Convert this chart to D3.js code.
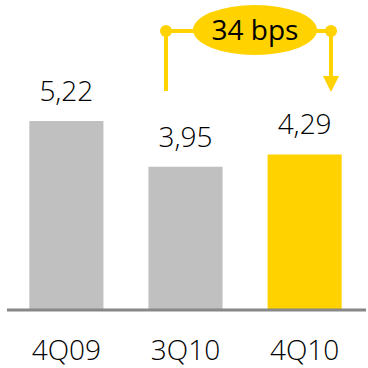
<!DOCTYPE html>
<html><head><meta charset="utf-8">
<script src="https://cdn.jsdelivr.net/npm/d3@7"></script>
<style>body{margin:0;background:#fff}</style>
</head><body>
<svg id="c" width="368" height="368"></svg>
<script>
const categories = ["4Q09", "3Q10", "4Q10"];
const values = [5.22, 3.95, 4.29];
const valueLabels = ["5,22", "3,95", "4,29"];
const barColors = ["#c0c0c0", "#c0c0c0", "#ffd200"];
const deltaLabel = "34 bps";

const svg = d3.select("#c");
const baseY = 309;
const x = d3.scaleBand().domain(categories).range([5.5, 365.5]).paddingInner(0.378).paddingOuter(0.2);
const y = d3.scaleLinear().domain([0, 5.22]).range([baseY, 121]);
const font = "'Open Sans', sans-serif";

svg.selectAll("rect.bar").data(values).enter().append("rect")
  .attr("x", (d, i) => x(categories[i]))
  .attr("y", d => y(d))
  .attr("width", x.bandwidth())
  .attr("height", d => baseY - y(d))
  .attr("fill", (d, i) => barColors[i]);

svg.append("line").attr("x1", 7).attr("x2", 366).attr("y1", baseY + 1).attr("y2", baseY + 1)
  .attr("stroke", "#888").attr("stroke-width", 3);

svg.selectAll("text.v").data(values).enter().append("text")
  .attr("x", (d, i) => x(categories[i]) + x.bandwidth() / 2)
  .attr("y", d => y(d) - 20)
  .attr("text-anchor", "middle")
  .attr("font-family", font).attr("font-size", 28).attr("font-weight", 300).attr("fill", "#000")
  .text((d, i) => valueLabels[i]);

svg.selectAll("text.c").data(categories).enter().append("text")
  .attr("x", d => x(d) + x.bandwidth() / 2)
  .attr("y", 360)
  .attr("text-anchor", "middle")
  .attr("font-family", font).attr("font-size", 28).attr("font-weight", 300).attr("fill", "#000")
  .text(d => d);

// delta annotation
const yel = "#ffd200";
const xl = 166;
const xr = 331;
const ty = 31;
const g = svg.append("g");
g.append("line").attr("x1", xl).attr("x2", xr).attr("y1", ty).attr("y2", ty).attr("stroke", yel).attr("stroke-width", 4);
g.append("line").attr("x1", xl).attr("x2", xl).attr("y1", ty).attr("y2", 91).attr("stroke", yel).attr("stroke-width", 4);
g.append("line").attr("x1", xr).attr("x2", xr).attr("y1", ty).attr("y2", 78).attr("stroke", yel).attr("stroke-width", 4);
g.append("path").attr("d", `M${xr - 8},76 L${xr + 8},76 L${xr},92 Z`).attr("fill", yel);
g.append("circle").attr("cx", xl).attr("cy", ty).attr("r", 6).attr("fill", yel);
g.append("circle").attr("cx", xr).attr("cy", ty).attr("r", 6).attr("fill", yel);
g.append("ellipse").attr("cx", 255).attr("cy", 30).attr("rx", 62).attr("ry", 25).attr("fill", yel);
g.append("text").attr("x", 255).attr("y", 40).attr("text-anchor", "middle")
  .attr("font-family", font).attr("font-size", 28).attr("font-weight", 400).attr("fill", "#000").text(deltaLabel);
</script>
</body></html>
